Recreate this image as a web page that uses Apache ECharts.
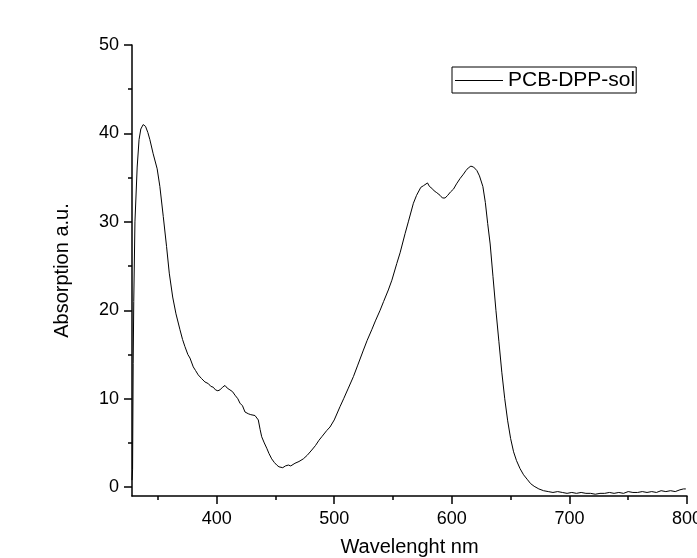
<!DOCTYPE html>
<html>
<head>
<meta charset="utf-8">
<script src="https://cdn.jsdelivr.net/npm/echarts@6/dist/echarts.min.js"></script>
<style>
html,body{margin:0;padding:0;background:#fff;}
#chart{width:697px;height:558px;}
</style>
</head>
<body>
<div id="chart"></div>
<script>
var seriesName = 'PCB-DPP-sol';
var wavelength = [328,328.5,329,329.5,330.5,332.4,334,335.5,337.5,339.5,341.5,343.2,346,349.4,351.7,354.6,357.4,359.7,362.6,365.4,368.8,371,373,375.5,377.3,380.1,382,384.3,387,390,393,395,397.1,399,401,402.8,405,407.1,409,411.3,413.5,415.6,418,419.8,422,424.1,426.9,429,432.6,435.4,437,438.3,440.5,442.6,444.5,446.8,449,451.1,453,456.2,458.5,461,463,466.6,470,473.7,477,480.9,484,487,489.4,493.6,496.4,500,504.9,508,512,516.3,520,524.8,528,531.9,535,539,542,546,549,553.2,556,560.3,563,567.3,570,573.6,576,577.5,579.3,581,583,585,587.2,590,592,594.3,596.5,599,601.4,604,607,609.9,612,614,616.2,618.5,621.3,623.5,626.4,628.5,630.5,632.6,635,637.5,640,642.5,645,647.5,650,652.5,655,658,661,664,667,670,674,678,682,686,690,694,698,702,706,710,714,718,722,726,730,734,738,742,746,750,754,758,762,766,770,774,778,782,786,790,794,797,799];
var absorption = [0.8,2,14,21,30,36.2,39.3,40.5,41.0,40.8,40.1,39.3,37.7,36.0,34.0,30.6,27.2,24.2,21.5,19.6,17.8,16.7,15.9,15.0,14.6,13.6,13.2,12.7,12.3,11.9,11.7,11.4,11.3,11.0,10.9,11.0,11.3,11.5,11.2,11.0,10.8,10.4,10.0,9.5,9.2,8.5,8.3,8.2,8.1,7.6,6.5,5.7,5.0,4.4,3.8,3.2,2.8,2.5,2.3,2.2,2.4,2.5,2.4,2.7,2.9,3.2,3.6,4.2,4.7,5.3,5.7,6.4,6.8,7.6,9.1,10.0,11.2,12.5,13.8,15.5,16.6,17.8,18.8,20.0,21.0,22.3,23.4,25.3,26.5,28.7,30.0,32.1,33.0,33.9,34.1,34.2,34.4,34.0,33.8,33.5,33.3,33.0,32.7,32.7,33.0,33.4,33.7,34.3,34.9,35.4,35.8,36.1,36.3,36.2,35.8,35.2,34.0,32.2,29.8,27.5,23.8,20.0,16.5,13.0,10.0,7.5,5.5,4.0,3.0,2.1,1.4,0.9,0.4,0.1,-0.2,-0.4,-0.5,-0.6,-0.5,-0.6,-0.7,-0.6,-0.7,-0.6,-0.7,-0.7,-0.8,-0.7,-0.7,-0.6,-0.7,-0.6,-0.7,-0.5,-0.6,-0.6,-0.5,-0.6,-0.5,-0.6,-0.4,-0.5,-0.4,-0.5,-0.3,-0.2,-0.2];
var xMajorTicks = [400,500,600,700,800];
var xMinorTicks = [350,450,550,650,750];
var yMajorTicks = [0,10,20,30,40,50];
var yMinorTicks = [5,15,25,35,45];
var xName = 'Wavelenght nm';
var yName = 'Absorption a.u.';

var points = wavelength.map(function(w,i){return [w, absorption[i]];});
var FONT = 'Liberation Sans, Arial, sans-serif';
var xMin = 328, xMax = 800, yMin = -1, yMax = 50;

var chart = echarts.init(document.getElementById('chart'), null, {renderer:'canvas'});
chart.setOption({
  animation:false,
  backgroundColor:'#fff',
  grid:{left:132, right:10, top:45, bottom:62, containLabel:false, outerBoundsMode:'none'},
  legend:{
    show:true, left:452, top:67, orient:'horizontal',
    padding:[3,1,2,3], borderColor:'#000', borderWidth:1, borderRadius:0,
    itemWidth:48, itemHeight:1, icon:'rect',
    textStyle:{fontFamily:FONT, fontSize:21, color:'#000'},
    itemStyle:{color:'#000'},
    data:[{name:seriesName, icon:'rect'}]
  },
  xAxis:[{
    type:'value', min:xMin, max:xMax,
    name:xName, nameLocation:'middle', nameGap:41,
    nameTextStyle:{fontFamily:FONT, fontSize:20, color:'#000'},
    axisLine:{show:true, onZero:false, lineStyle:{color:'#000', width:1.5}},
    axisTick:{show:true, inside:false, length:8, customValues:xMajorTicks, lineStyle:{color:'#000', width:1.5}},
    axisLabel:{show:true, margin:14, customValues:xMajorTicks, fontFamily:FONT, fontSize:18, color:'#000', hideOverlap:false},
    splitLine:{show:false}
  },{
    type:'value', min:xMin, max:xMax, position:'bottom',
    axisLine:{show:false, onZero:false},
    axisTick:{show:true, inside:false, length:4, customValues:xMinorTicks, lineStyle:{color:'#000', width:1.5}},
    axisLabel:{show:false},
    splitLine:{show:false}
  }],
  yAxis:[{
    type:'value', min:yMin, max:yMax,
    name:yName, nameLocation:'middle', nameGap:60, nameRotate:90,
    nameTextStyle:{fontFamily:FONT, fontSize:20, color:'#000'},
    axisLine:{show:true, onZero:false, lineStyle:{color:'#000', width:1.5}},
    axisTick:{show:true, inside:false, length:8, customValues:yMajorTicks, lineStyle:{color:'#000', width:1.5}},
    axisLabel:{show:true, margin:13, customValues:yMajorTicks, fontFamily:FONT, fontSize:18, color:'#000'},
    splitLine:{show:false}
  },{
    type:'value', min:yMin, max:yMax, position:'left',
    axisLine:{show:false, onZero:false},
    axisTick:{show:true, inside:false, length:4, customValues:yMinorTicks, lineStyle:{color:'#000', width:1.5}},
    axisLabel:{show:false},
    splitLine:{show:false}
  }],
  series:[{
    name:seriesName, type:'line', xAxisIndex:0, yAxisIndex:0,
    data:points, symbol:'none', smooth:false,
    lineStyle:{color:'#000', width:1},
    itemStyle:{color:'#000'}
  }]
});
</script>
</body>
</html>
